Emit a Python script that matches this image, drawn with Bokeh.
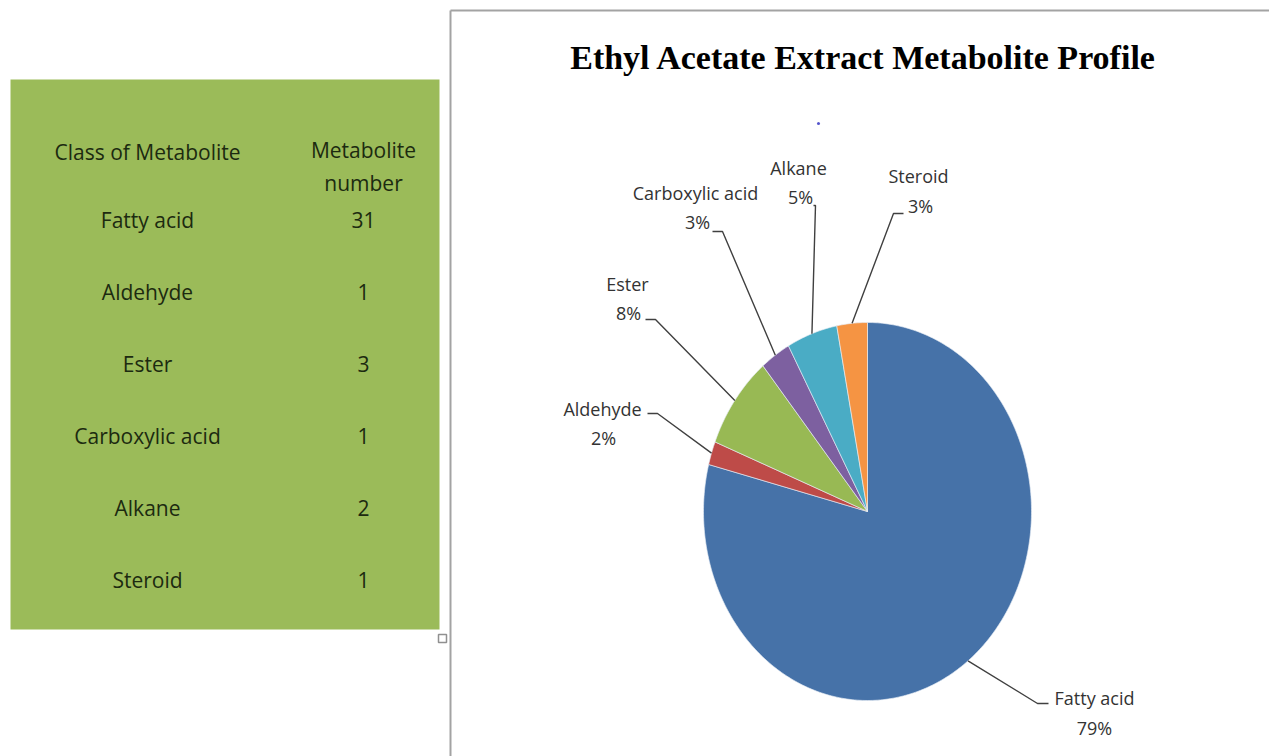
import math

from bokeh.core.properties import value
from bokeh.embed import file_html
from bokeh.models import Range1d
from bokeh.plotting import figure
from bokeh.resources import INLINE

# ---- data -------------------------------------------------------------
classes = ["Fatty acid", "Aldehyde", "Ester", "Carboxylic acid", "Alkane", "Steroid"]
counts = [31, 1, 3, 1, 2, 1]
percents = [79, 2, 8, 3, 5, 3]
header_left = "Class of Metabolite"
header_right = ["Metabolite", "number"]
title = "Ethyl Acetate Extract Metabolite Profile"

# ---- styling ----------------------------------------------------------
slice_colors = ["#4672A8", "#BE4B48", "#98B954", "#7D60A0", "#4AACC5", "#F59443"]
table_green = "#9BBB59"
table_text = "#1c2a10"
label_text = "#333333"
leader_color = "#404040"
frame_color = "#a3a3a3"
LABEL_FONT = value("Open Sans")

W, H = 1269, 756
p = figure(width=W, height=H, x_range=Range1d(0, W), y_range=Range1d(H, 0),
           output_backend="svg", toolbar_location=None, min_border=0,
           x_axis_location=None, y_axis_location=None)
p.grid.visible = False
p.outline_line_color = None
p.background_fill_color = "white"
p.border_fill_color = "white"

# ---- table panel ------------------------------------------------------
p.quad(left=10, right=439, top=79, bottom=629, fill_color=table_green, line_color=None)
p.rect(x=442, y=638, width=8, height=8, fill_color="white", line_color="#909090", line_width=1.5)

col_left_x, col_right_x = 147, 363
TABLE_SIZE = "21px"
p.text(x=[col_left_x], y=[151], text=[header_left], text_font=LABEL_FONT,
       text_font_size=TABLE_SIZE, text_align="center", text_baseline="middle", text_color=table_text)
p.text(x=[col_right_x, col_right_x], y=[149, 182], text=header_right, text_font=LABEL_FONT,
       text_font_size=TABLE_SIZE, text_align="center", text_baseline="middle", text_color=table_text)

row_y0, row_step = 219, 72
row_y = [row_y0 + i * row_step for i in range(len(classes))]
p.text(x=[col_left_x] * len(classes), y=row_y, text=classes, text_font=LABEL_FONT,
       text_font_size=TABLE_SIZE, text_align="center", text_baseline="middle", text_color=table_text)
p.text(x=[col_right_x] * len(counts), y=row_y, text=[str(c) for c in counts], text_font=LABEL_FONT,
       text_font_size=TABLE_SIZE, text_align="center", text_baseline="middle", text_color=table_text)

# ---- chart frame and title --------------------------------------------
p.line(x=[450, W + 5], y=[10, 10], line_color=frame_color, line_width=2)
p.line(x=[450, 450], y=[10, H + 5], line_color=frame_color, line_width=2)

p.text(x=[863], y=[57], text=[title], text_font=value("Liberation Serif"), text_font_style="bold",
       text_font_size="34px", text_align="center", text_baseline="middle", text_color="#000000")
p.scatter(x=[818], y=[123], size=3, color="#5555cc", line_color=None)

# ---- pie (clockwise from 12 o'clock, slightly taller than wide) --------
cx, cy, rx, ry = 867, 511, 164, 189
total = float(sum(percents))
xs, ys, mids = [], [], []
acc = 0.0
for v in percents:
    a0 = acc / total * 2 * math.pi
    a1 = (acc + v) / total * 2 * math.pi
    n = max(int(v * 4), 10)
    px, py = [cx], [cy]
    for i in range(n + 1):
        a = a0 + (a1 - a0) * i / n
        px.append(cx + rx * math.sin(a))
        py.append(cy - ry * math.cos(a))
    xs.append(px)
    ys.append(py)
    mids.append((a0 + a1) / 2)
    acc += v

p.patches(xs=xs, ys=ys, fill_color=slice_colors, line_color="#e8eef5", line_width=0.8, line_alpha=0.8)

# ---- data labels with leader lines -------------------------------------
label_layout = {
    "Fatty acid":      dict(name=(1094, 697), pct=(1094, 727), elbow=(1037, 703), end=(1048, 703)),
    "Aldehyde":        dict(name=(602, 408), pct=(603, 437), elbow=(657, 413), end=(647, 413)),
    "Ester":           dict(name=(627, 283), pct=(628, 312), elbow=(655, 319), end=(645, 319)),
    "Carboxylic acid": dict(name=(695, 192), pct=(697, 221), elbow=(722, 231), end=(712, 231)),
    "Alkane":          dict(name=(798, 167), pct=(800, 196), elbow=(815, 205), end=(813, 205)),
    "Steroid":         dict(name=(918, 175), pct=(920, 205), elbow=(893, 213), end=(903, 213)),
}

for cls, v, mid in zip(classes, percents, mids):
    lay = label_layout[cls]
    ax = cx + rx * math.sin(mid)
    ay = cy - ry * math.cos(mid)
    p.line(x=[ax, lay["elbow"][0], lay["end"][0]], y=[ay, lay["elbow"][1], lay["end"][1]],
           line_color=leader_color, line_width=1.4)
    p.text(x=[lay["name"][0], lay["pct"][0]], y=[lay["name"][1], lay["pct"][1]],
           text=[cls, f"{v}%"], text_font=LABEL_FONT, text_font_size="18px",
           text_align="center", text_baseline="middle", text_color=label_text)

open("out.html", "w").write(file_html(p, INLINE))
